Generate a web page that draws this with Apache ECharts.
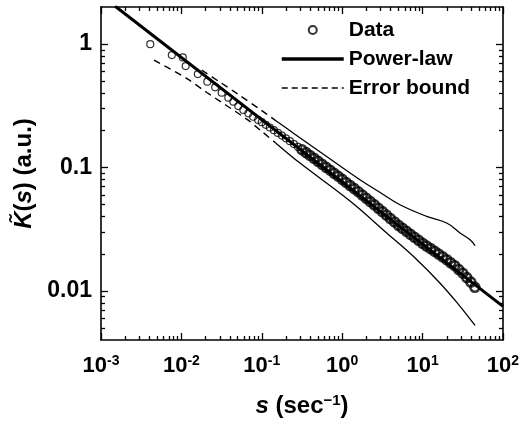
<!DOCTYPE html>
<html><head><meta charset="utf-8">
<script src="https://cdn.jsdelivr.net/npm/echarts@6/dist/echarts.min.js"></script>
<style>html,body{margin:0;padding:0;background:#fff}#c{width:522px;height:424px}</style>
</head><body><div id="c"></div><script>
// ---- data ----
const dataS = [0.0041,0.0076,0.0104,0.0113,0.016,0.021,0.0263,0.0317,0.0383,0.0443,0.051,0.059,0.068,0.078,0.090,
  0.1,0.1122,0.1259,0.1413,0.1585,0.1778,0.1995,0.2239,0.2512,0.2818,0.3162,0.3548,0.3981,0.4467,0.5012,0.5623,0.631,0.7079,0.7943,0.8913,
  1.0,1.122,1.259,1.413,1.585,1.778,1.995,2.239,2.512,2.818,3.162,3.548,3.981,4.467,5.012,5.623,6.31,7.079,7.943,8.913,
  10,11.22,12.59,14.13,15.85,17.78,19.95,22.39,25.12,28.18,31.62,35.48,39.81,44.67];
const dataK = [1.0,0.815,0.78,0.664,0.572,0.496,0.447,0.404,0.368,0.342,0.315,0.293,0.275,0.258,0.243,
  0.2333,0.2218,0.2110,0.2006,0.1908,0.1814,0.1725,0.1635,0.1550,0.1470,0.1393,0.1320,0.1252,0.1187,0.1122,0.1062,0.1004,0.0950,0.0898,0.0850,
  0.0802,0.0756,0.0714,0.0674,0.0636,0.0598,0.0563,0.0529,0.0498,0.0467,0.0439,0.0412,0.0386,0.0362,0.0340,0.0321,0.0304,0.0287,0.0272,0.0257,
  0.0243,0.0231,0.0220,0.0209,0.0199,0.0189,0.0179,0.0169,0.0160,0.0149,0.0139,0.0128,0.0118,0.0107];
const powerS = [0.0015, 100];
const powerK = [2.03, 0.0075];
const upperDashS = [0.0179, 0.03, 0.05, 0.1, 0.15];
const upperDashK = [0.616, 0.493, 0.395, 0.289, 0.239];
const lowerDashS = [0.00456, 0.0116, 0.0207, 0.0649, 0.1, 0.15];
const lowerDashK = [0.742, 0.528, 0.4055, 0.2466, 0.196, 0.1575];
const upperS = [0.15, 0.25, 0.64, 1.66, 3.0, 5.23, 11.2, 19.95, 29.2, 38.9, 44.9];
const upperK = [0.239, 0.189, 0.1227, 0.0796, 0.0625, 0.0499, 0.0402, 0.0355, 0.0295, 0.026, 0.0233];
const lowerS = [0.15, 0.2985, 1.25, 3.57, 7.66, 16.4, 29.2, 44.9];
const lowerK = [0.1575, 0.1086, 0.0535, 0.0295, 0.0191, 0.0116, 0.0075, 0.00525];
// ---- ticks ----
const xMajor = [0.001, 0.01, 0.1, 1, 10, 100];
const xExpLabels = ['-3', '-2', '-1', '0', '1', '2'];
const yMajor = [0.01, 0.1, 1];
const yLabels = ['0.01', '0.1', '1'];
const xMin = 0.001, xMax = 100, yMin = 0.004, yMax = 2;

function minorTicks(lo, hi) {
  const out = [];
  for (let e = -4; e <= 3; e++) for (let m = 2; m <= 9; m++) {
    const v = +(m * Math.pow(10, e)).toPrecision(6);
    if (v > lo && v < hi) out.push(v);
  }
  return out;
}
const xMinor = minorTicks(xMin, xMax);
const yMinor = minorTicks(yMin, yMax);
const zip = (a, b) => a.map((v, i) => [v, b[i]]);
const FONT = 'Liberation Sans, Arial, sans-serif';
const idx = (arr, v) => arr.findIndex(t => Math.abs(Math.log10(t) - Math.log10(v)) < 1e-6);

function xAx(pos, ticks, len, major, label) {
  const a = {
    type: 'log', logBase: 10, min: xMin, max: xMax, position: pos,
    axisLine: { show: major, onZero: false, lineStyle: { color: '#000', width: 1.6 } },
    axisTick: { show: true, inside: true, length: len, customValues: ticks, lineStyle: { color: '#000', width: 1.3 } },
    axisLabel: { show: false },
    splitLine: { show: false }, minorTick: { show: false }, minorSplitLine: { show: false }
  };
  if (label) {
    a.axisLabel = {
      show: true, customValues: xMajor, margin: 14, color: '#000',
      formatter: v => { const i = idx(xMajor, v); return i < 0 ? '' : '{b|10}{s|' + xExpLabels[i] + '}'; },
      rich: {
        b: { fontSize: 22, fontWeight: 'bold', fontFamily: FONT, color: '#000', lineHeight: 24 },
        s: { fontSize: 14, fontWeight: 'bold', fontFamily: FONT, color: '#000', verticalAlign: 'top', lineHeight: 14 }
      }
    };
    a.name = '{i|s}{n| (sec}{s|\u22121}{n|)}';
    a.nameLocation = 'middle';
    a.nameGap = 53;
    a.nameTextStyle = {
      rich: {
        i: { fontSize: 24, fontWeight: 'bold', fontStyle: 'italic', fontFamily: FONT, color: '#000', lineHeight: 26 },
        n: { fontSize: 24, fontWeight: 'bold', fontFamily: FONT, color: '#000', lineHeight: 26 },
        s: { fontSize: 15, fontWeight: 'bold', fontFamily: FONT, color: '#000', verticalAlign: 'top', lineHeight: 15 }
      }
    };
  }
  return a;
}
function yAx(pos, ticks, len, major, label) {
  const a = {
    type: 'log', logBase: 10, min: yMin, max: yMax, position: pos,
    axisLine: { show: major, onZero: false, lineStyle: { color: '#000', width: 1.6 } },
    axisTick: { show: true, inside: true, length: len, customValues: ticks, lineStyle: { color: '#000', width: 1.3 } },
    axisLabel: { show: false },
    splitLine: { show: false }, minorTick: { show: false }, minorSplitLine: { show: false }
  };
  if (label) {
    a.axisLabel = {
      show: true, customValues: yMajor, margin: 9, color: '#000',
      fontSize: 23, fontWeight: 'bold', fontFamily: FONT,
      formatter: v => { const i = idx(yMajor, v); return i < 0 ? '' : yLabels[i]; }
    };
    a.name = '{i|K\u0303}{n|(}{i|s}{n|) (a.u.)}';
    a.nameLocation = 'middle';
    a.nameGap = 45;
    a.nameTextStyle = {
      rich: {
        i: { fontSize: 24, fontWeight: 'bold', fontStyle: 'italic', fontFamily: FONT, color: '#000', lineHeight: 28 },
        n: { fontSize: 24, fontWeight: 'bold', fontFamily: FONT, color: '#000', lineHeight: 28 }
      }
    };
  }
  return a;
}

// marker styling: the dense part of the scan is drawn with heavier overlapping rings
const scatterData = dataS.map((s, i) => {
  const dense = s > 0.3;
  return { value: [s, dataK[i]], symbolSize: dense ? 9 : 7,
    itemStyle: { borderWidth: dense ? 2.6 : 1.2 } };
});

const chart = echarts.init(document.getElementById('c'), null, { renderer: 'canvas' });
chart.setOption({
  animation: false,
  backgroundColor: '#fff',
  color: ['#000'],
  grid: { left: 101, right: 19, top: 7, bottom: 84, containLabel: false, outerBoundsMode: 'none' },
  xAxis: [
    xAx('bottom', xMajor, 7, true, true),
    xAx('bottom', xMinor, 4, false, false),
    xAx('top', xMajor, 7, true, false),
    xAx('top', xMinor, 4, false, false)
  ],
  yAxis: [
    yAx('left', yMajor, 7, true, true),
    yAx('left', yMinor, 4, false, false),
    yAx('right', yMajor, 7, true, false),
    yAx('right', yMinor, 4, false, false)
  ],
  legend: {
    data: [
      { name: 'Data' },
      { name: 'Power-law', itemStyle: { opacity: 0 }, lineStyle: { width: 3.5, color: '#000' } },
      { name: 'Error bound', itemStyle: { opacity: 0 }, lineStyle: { width: 1.4, color: '#000', type: [6, 4] } }
    ],
    orient: 'vertical', left: 275, top: 14,
    itemWidth: 62, itemHeight: 8, itemGap: 7, selectedMode: false,
    textStyle: { fontSize: 21, fontWeight: 'bold', fontFamily: FONT, color: '#000', lineHeight: 22 }
  },
  series: [
    { name: 'Power-law', type: 'line', data: zip(powerS, powerK), symbol: 'none', z: 2,
      itemStyle: { color: '#000' }, lineStyle: { color: '#000', width: 3 } },
    { name: 'Error bound', type: 'line', data: zip(upperDashS, upperDashK), symbol: 'none', smooth: 0.3, z: 1,
      itemStyle: { color: '#000' }, lineStyle: { color: '#000', width: 1.4, type: [7, 5] } },
    { name: 'Error bound', type: 'line', data: zip(lowerDashS, lowerDashK), symbol: 'none', smooth: 0.3, z: 1,
      itemStyle: { color: '#000' }, lineStyle: { color: '#000', width: 1.4, type: [7, 5] } },
    { name: 'Error bound (upper)', type: 'line', data: zip(upperS, upperK), symbol: 'none', smooth: 0.4, z: 1,
      itemStyle: { color: '#000' }, lineStyle: { color: '#000', width: 1.3 } },
    { name: 'Error bound (lower)', type: 'line', data: zip(lowerS, lowerK), symbol: 'none', smooth: 0.4, z: 1,
      itemStyle: { color: '#000' }, lineStyle: { color: '#000', width: 1.3 } },
    { name: 'Data', type: 'scatter', data: scatterData, symbol: 'circle', z: 3,
      itemStyle: { color: 'rgba(255,255,255,0)', borderColor: '#000', borderWidth: 1.2 } }
  ]
});
</script></body></html>
